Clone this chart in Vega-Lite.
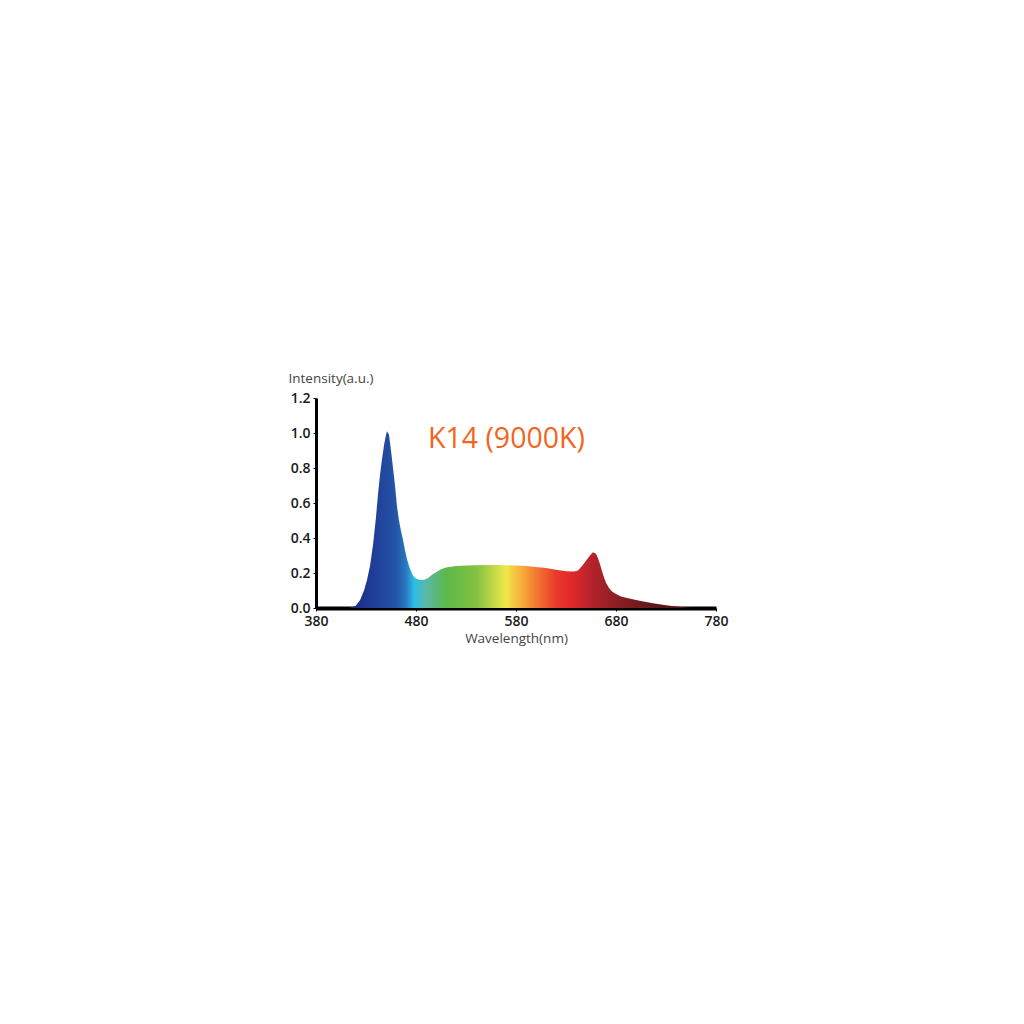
{
  "$schema": "https://vega.github.io/schema/vega-lite/v6.json",
  "width": 400,
  "height": 210,
  "autosize": {"type": "none"},
  "padding": {"left": 316, "top": 398, "right": 308, "bottom": 416},
  "background": "white",
  "config": {
    "view": {"stroke": null},
    "font": "Open Sans",
    "axis": {"grid": false, "domainColor": "black", "tickColor": "black", "labelColor": "#1a1a1a", "labelFont": "Open Sans", "labelFontWeight": 600, "labelFontSize": 14, "labelFlush": false, "labelOverlap": false, "titleFont": "Open Sans", "titleFontWeight": "normal", "titleColor": "#444", "titleFontSize": 13.5}
  },
  "encoding": {
    "x": {"field": "wl", "type": "quantitative", "scale": {"domain": [380, 780], "nice": false, "zero": false},
      "axis": {"values": [380, 480, 580, 680, 780], "title": "Wavelength(nm)", "labelOverlap": false, "domainWidth": 4, "tickSize": 3, "tickWidth": 1, "labelPadding": 3.5, "titlePadding": 3}},
    "y": {"field": "intensity", "type": "quantitative", "scale": {"domain": [0, 1.2], "nice": false},
      "axis": {"values": [0, 0.2, 0.4, 0.6, 0.8, 1.0, 1.2], "format": ".1f", "labelOverlap": false, "title": "Intensity(a.u.)", "titleAngle": 0, "titleAlign": "left", "titleBaseline": "middle", "titleX": -28, "titleY": -20, "domainWidth": 3, "tickSize": 3, "tickWidth": 1, "labelPadding": 3}}
  },
  "layer": [
    {
      "data": {"values": [
        {"wl": 380, "intensity": 0},
        {"wl": 412, "intensity": 0},
        {"wl": 416, "intensity": 0.005},
        {"wl": 420, "intensity": 0.015},
        {"wl": 424, "intensity": 0.045},
        {"wl": 428, "intensity": 0.1},
        {"wl": 431, "intensity": 0.16},
        {"wl": 434, "intensity": 0.24},
        {"wl": 437, "intensity": 0.36},
        {"wl": 440, "intensity": 0.52},
        {"wl": 442, "intensity": 0.65},
        {"wl": 444, "intensity": 0.76},
        {"wl": 446, "intensity": 0.85},
        {"wl": 448, "intensity": 0.93},
        {"wl": 450, "intensity": 0.99},
        {"wl": 451, "intensity": 1.01},
        {"wl": 453, "intensity": 0.99},
        {"wl": 455, "intensity": 0.9},
        {"wl": 457, "intensity": 0.8},
        {"wl": 459, "intensity": 0.7},
        {"wl": 461, "intensity": 0.58},
        {"wl": 463, "intensity": 0.5},
        {"wl": 465, "intensity": 0.44},
        {"wl": 467, "intensity": 0.39},
        {"wl": 469, "intensity": 0.33},
        {"wl": 471, "intensity": 0.28},
        {"wl": 473, "intensity": 0.24},
        {"wl": 475, "intensity": 0.21},
        {"wl": 477, "intensity": 0.185},
        {"wl": 480, "intensity": 0.168},
        {"wl": 484, "intensity": 0.16},
        {"wl": 488, "intensity": 0.162},
        {"wl": 492, "intensity": 0.172},
        {"wl": 496, "intensity": 0.19},
        {"wl": 500, "intensity": 0.205},
        {"wl": 505, "intensity": 0.222},
        {"wl": 510, "intensity": 0.232},
        {"wl": 520, "intensity": 0.24},
        {"wl": 530, "intensity": 0.243},
        {"wl": 540, "intensity": 0.245},
        {"wl": 550, "intensity": 0.246},
        {"wl": 560, "intensity": 0.246},
        {"wl": 570, "intensity": 0.245},
        {"wl": 580, "intensity": 0.243},
        {"wl": 590, "intensity": 0.24},
        {"wl": 600, "intensity": 0.235},
        {"wl": 610, "intensity": 0.228},
        {"wl": 620, "intensity": 0.218},
        {"wl": 630, "intensity": 0.21},
        {"wl": 638, "intensity": 0.208},
        {"wl": 642, "intensity": 0.215},
        {"wl": 646, "intensity": 0.24},
        {"wl": 650, "intensity": 0.27},
        {"wl": 654, "intensity": 0.3},
        {"wl": 657, "intensity": 0.318},
        {"wl": 660, "intensity": 0.31},
        {"wl": 662, "intensity": 0.285},
        {"wl": 664, "intensity": 0.25},
        {"wl": 666, "intensity": 0.21},
        {"wl": 668, "intensity": 0.175},
        {"wl": 670, "intensity": 0.145},
        {"wl": 673, "intensity": 0.115},
        {"wl": 676, "intensity": 0.095},
        {"wl": 680, "intensity": 0.08},
        {"wl": 685, "intensity": 0.066},
        {"wl": 690, "intensity": 0.058},
        {"wl": 700, "intensity": 0.046},
        {"wl": 710, "intensity": 0.035},
        {"wl": 720, "intensity": 0.025},
        {"wl": 730, "intensity": 0.016},
        {"wl": 740, "intensity": 0.009},
        {"wl": 750, "intensity": 0.003},
        {"wl": 755, "intensity": 0},
        {"wl": 780, "intensity": 0}
      ]},
      "mark": {
        "type": "area",
        "interpolate": "linear",
        "color": {
          "gradient": "linear", "x1": 0, "x2": 1, "y1": 0, "y2": 0,
          "stops": [
            {"offset": 0.0, "color": "#1c2a80"},
            {"offset": 0.1, "color": "#1d2d88"},
            {"offset": 0.15, "color": "#20409a"},
            {"offset": 0.2, "color": "#2455a6"},
            {"offset": 0.225, "color": "#2a78c0"},
            {"offset": 0.245, "color": "#2bbde8"},
            {"offset": 0.275, "color": "#5ab8a8"},
            {"offset": 0.325, "color": "#5cb84a"},
            {"offset": 0.4, "color": "#82c241"},
            {"offset": 0.475, "color": "#f0e84a"},
            {"offset": 0.5125, "color": "#f7b03a"},
            {"offset": 0.55, "color": "#f47a30"},
            {"offset": 0.6, "color": "#ea3a2a"},
            {"offset": 0.6375, "color": "#e2292a"},
            {"offset": 0.6875, "color": "#b5232c"},
            {"offset": 0.75, "color": "#8e1f24"},
            {"offset": 0.85, "color": "#5e1616"},
            {"offset": 1.0, "color": "#4a0f0f"}
          ]
        }
      }
    },
    {
      "data": {"values": [{"label": "K14 (9000K)", "wl": 492, "intensity": 0.914}]},
      "mark": {"type": "text", "align": "left", "baseline": "alphabetic", "fontSize": 28.5, "font": "Open Sans", "color": "#f26522"},
      "encoding": {
        "text": {"field": "label"}
      }
    }
  ]
}
